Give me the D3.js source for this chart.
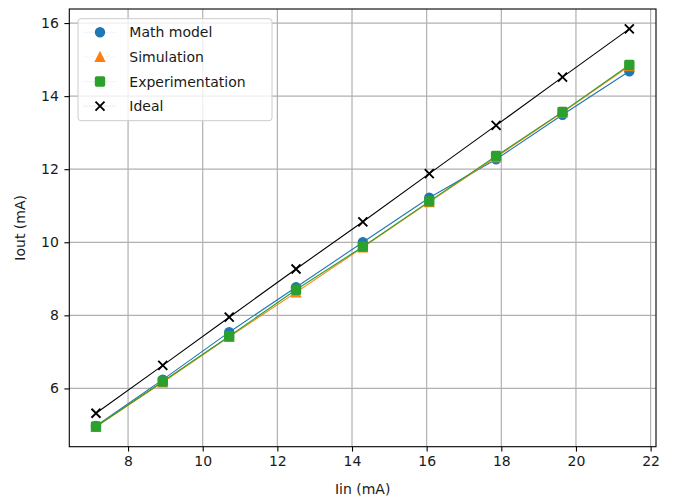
<!DOCTYPE html>
<meta charset="utf-8">
<script src="https://d3js.org/d3.v7.min.js"></script>
<style>
  body { margin: 0; background: #fff; }
  text { font-family: "DejaVu Sans", sans-serif; }
</style>
<div id="chart"></div>
<script>

// data
var iin = [7.14, 8.93, 10.71, 12.50, 14.29, 16.07, 17.86, 19.64, 21.43];
var mathModel = [4.97, 6.24, 7.54, 8.77, 10.00, 11.22, 12.27, 13.49, 14.68];
var simulation = [4.95, 6.17, 7.41, 8.63, 9.86, 11.10, 12.33, 13.56, 14.82];
var experimentation = [4.96, 6.19, 7.43, 8.70, 9.88, 11.12, 12.36, 13.57, 14.85];
var ideal = [5.32, 6.63, 7.95, 9.27, 10.56, 11.88, 13.20, 14.52, 15.84];
var xTicks = [8, 10, 12, 14, 16, 18, 20, 22];
var yTicks = [6, 8, 10, 12, 14, 16];

var series = [
  {name: "Math model", values: mathModel, color: "#1f77b4", marker: "circle"},
  {name: "Simulation", values: simulation, color: "#ff7f0e", marker: "triangle"},
  {name: "Experimentation", values: experimentation, color: "#2ca02c", marker: "square"},
  {name: "Ideal", values: ideal, color: "#000000", marker: "x"}
];

var W = 675, H = 498;
var margin = {top: 9, right: 19, bottom: 51.3, left: 69.3},
    width = W - margin.left - margin.right,
    height = H - margin.top - margin.bottom;

var svg = d3.select("#chart").append("svg")
    .attr("width", W)
    .attr("height", H);

var g = svg.append("g")
    .attr("transform", "translate(" + margin.left + "," + margin.top + ")");

// matplotlib style 5% margins
var xr = d3.extent(iin), xm = (xr[1] - xr[0]) * 0.05;
var allY = mathModel.concat(simulation, experimentation, ideal);
var yr = d3.extent(allY), ym = (yr[1] - yr[0]) * 0.05;

var x = d3.scaleLinear().domain([xr[0] - xm, xr[1] + xm]).range([0, width]);
var y = d3.scaleLinear().domain([yr[0] - ym, yr[1] + ym]).range([height, 0]);

// grid
g.append("g").selectAll("line").data(xTicks).enter().append("line")
    .attr("x1", d => x(d)).attr("x2", d => x(d))
    .attr("y1", 0).attr("y2", height)
    .attr("stroke", "#b0b0b0").attr("stroke-width", 1.2);
g.append("g").selectAll("line").data(yTicks).enter().append("line")
    .attr("y1", d => y(d)).attr("y2", d => y(d))
    .attr("x1", 0).attr("x2", width)
    .attr("stroke", "#b0b0b0").attr("stroke-width", 1.2);

// axes
var xAxis = g.append("g")
    .attr("transform", "translate(0," + height + ")")
    .call(d3.axisBottom(x).tickValues(xTicks).tickSize(4.9).tickPadding(4.5));
var yAxis = g.append("g")
    .call(d3.axisLeft(y).tickValues(yTicks).tickSize(4.9).tickPadding(5.5));
[xAxis, yAxis].forEach(function(a) {
  a.select(".domain").remove();
  a.selectAll("line").attr("stroke", "#000").attr("stroke-width", 1.1);
  a.selectAll("text").attr("font-size", "14px").attr("fill", "#1a1a1a")
    .attr("font-family", "DejaVu Sans");
});

// marker drawing
function drawMarker(sel, type, color) {
  var s = 9, h = s / 2;
  if (type === "circle") {
    sel.append("circle").attr("r", h).attr("fill", color)
      .attr("stroke", color).attr("stroke-width", 1.4);
  } else if (type === "triangle") {
    sel.append("path").attr("d", "M0," + (-h) + "L" + (-h) + "," + h + "L" + h + "," + h + "Z")
      .attr("fill", color).attr("stroke", color).attr("stroke-width", 1.4)
      .attr("stroke-linejoin", "miter");
  } else if (type === "square") {
    sel.append("rect").attr("x", -h).attr("y", -h).attr("width", s).attr("height", s)
      .attr("rx", 1)
      .attr("fill", color).attr("stroke", color).attr("stroke-width", 1.4);
  } else {
    sel.append("path").attr("d", "M" + (-h) + "," + (-h) + "L" + h + "," + h + "M" + (-h) + "," + h + "L" + h + "," + (-h))
      .attr("fill", "none").attr("stroke", color).attr("stroke-width", 1.9);
  }
}

var line = d3.line()
  .x(function(d, i) { return x(iin[i]); })
  .y(function(d) { return y(d); });

var plot = g.append("g");
series.forEach(function(s) {
  var sg = plot.append("g");
  sg.append("path")
    .attr("d", line(s.values))
    .attr("fill", "none")
    .attr("stroke", s.color)
    .attr("stroke-width", 1.1);
  s.values.forEach(function(v, i) {
    var m = sg.append("g").attr("transform", "translate(" + x(iin[i]) + "," + y(v) + ")");
    drawMarker(m, s.marker, s.color);
  });
});

// spines
g.append("rect")
  .attr("width", width).attr("height", height)
  .attr("fill", "none").attr("stroke", "#000").attr("stroke-width", 1.1);

// axis labels
svg.append("text")
  .attr("x", margin.left + width / 2).attr("y", 494)
  .attr("text-anchor", "middle").attr("font-size", "14px").attr("fill", "#1a1a1a")
  .text("Iin (mA)");
svg.append("text")
  .attr("transform", "translate(25," + (margin.top + height / 2) + ") rotate(-90)")
  .attr("text-anchor", "middle").attr("font-size", "14px").attr("fill", "#1a1a1a")
  .text("Iout (mA)");

// legend
var legend = svg.append("g").attr("transform", "translate(78,18.7)");
legend.append("rect")
  .attr("width", 194).attr("height", 102).attr("rx", 3)
  .attr("fill", "#fff").attr("fill-opacity", 0.8)
  .attr("stroke", "#cccccc").attr("stroke-width", 1);
series.forEach(function(s, i) {
  var cy = 13.6 + i * 24.6;
  var row = legend.append("g").attr("transform", "translate(0," + cy + ")");
  row.append("line").attr("x1", 5).attr("x2", 38)
    .attr("stroke", s.color).attr("stroke-opacity", 0.08).attr("stroke-width", 1);
  drawMarker(row.append("g").attr("transform", "translate(22,0)"), s.marker, s.color);
  row.append("text").attr("x", 51.3).attr("y", 5)
    .attr("font-size", "14px").attr("fill", "#1a1a1a")
    .text(s.name);
});

</script>
